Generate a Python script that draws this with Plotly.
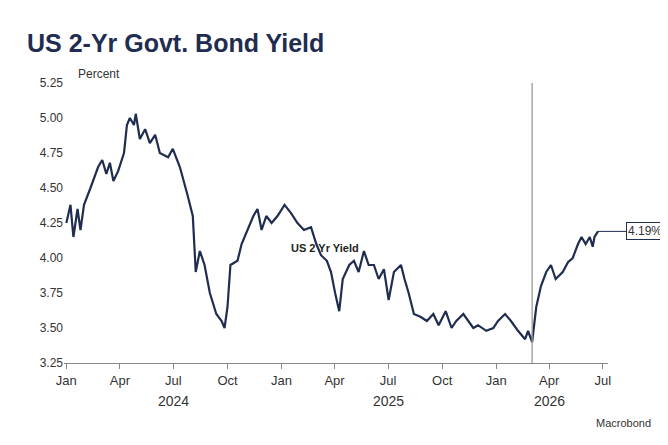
import plotly.graph_objects as go

dates = [
    "2024-01-01", "2024-01-08", "2024-01-13", "2024-01-20", "2024-01-25", "2024-01-31",
    "2024-02-11", "2024-02-24", "2024-03-02", "2024-03-09", "2024-03-15", "2024-03-21",
    "2024-03-29", "2024-04-08", "2024-04-13", "2024-04-18", "2024-04-25", "2024-04-28",
    "2024-05-05", "2024-05-14", "2024-05-22", "2024-05-31", "2024-06-08", "2024-06-22",
    "2024-06-30", "2024-07-12", "2024-07-25", "2024-08-03", "2024-08-08", "2024-08-15",
    "2024-08-23", "2024-09-01", "2024-09-12", "2024-09-21", "2024-09-26", "2024-10-01",
    "2024-10-06", "2024-10-18", "2024-10-25", "2024-11-04", "2024-11-14", "2024-11-21",
    "2024-11-28", "2024-12-06", "2024-12-15", "2024-12-25", "2025-01-06", "2025-01-17",
    "2025-01-28", "2025-02-08", "2025-02-20", "2025-03-01", "2025-03-09", "2025-03-19",
    "2025-03-26", "2025-04-02", "2025-04-09", "2025-04-15", "2025-04-26", "2025-05-04",
    "2025-05-12", "2025-05-21", "2025-05-29", "2025-06-07", "2025-06-15", "2025-06-24",
    "2025-07-02", "2025-07-11", "2025-07-23", "2025-07-29", "2025-08-05", "2025-08-14",
    "2025-08-25", "2025-09-05", "2025-09-16", "2025-09-25", "2025-10-07", "2025-10-17",
    "2025-10-25", "2025-11-06", "2025-11-15", "2025-11-23", "2025-12-01", "2025-12-15",
    "2025-12-27", "2026-01-04", "2026-01-16", "2026-01-26", "2026-02-07", "2026-02-19",
    "2026-02-24", "2026-03-03", "2026-03-10", "2026-03-18", "2026-03-27", "2026-04-04",
    "2026-04-12", "2026-04-24", "2026-05-03", "2026-05-11", "2026-05-20", "2026-05-26",
    "2026-06-02", "2026-06-09", "2026-06-14", "2026-06-17", "2026-06-23",
]
yields = [
    4.25, 4.38, 4.15, 4.35, 4.20, 4.38,
    4.50, 4.65, 4.70, 4.60, 4.68, 4.55,
    4.62, 4.75, 4.95, 5.00, 4.95, 5.03,
    4.85, 4.92, 4.82, 4.88, 4.75, 4.72,
    4.78, 4.65, 4.45, 4.30, 3.90, 4.05,
    3.95, 3.75, 3.60, 3.55, 3.50, 3.65,
    3.95, 3.98, 4.10, 4.20, 4.30, 4.35,
    4.20, 4.30, 4.25, 4.30, 4.38, 4.32,
    4.25, 4.20, 4.22, 4.10, 4.02, 3.98,
    3.90, 3.75, 3.62, 3.85, 3.95, 3.98,
    3.90, 4.05, 3.95, 3.95, 3.85, 3.92,
    3.70, 3.90, 3.95, 3.85, 3.75, 3.60,
    3.58, 3.55, 3.60, 3.52, 3.62, 3.50,
    3.55, 3.60, 3.55, 3.50, 3.52, 3.48,
    3.50, 3.55, 3.60, 3.55, 3.48, 3.42,
    3.48, 3.40, 3.65, 3.80, 3.90, 3.95,
    3.85, 3.90, 3.97, 4.00, 4.10, 4.15,
    4.10, 4.15, 4.08, 4.15, 4.19,
]
tick_dates = ["2024-01-01", "2024-04-01", "2024-07-01", "2024-10-01", "2025-01-01",
              "2025-04-01", "2025-07-01", "2025-10-01", "2026-01-01", "2026-04-01",
              "2026-07-01"]
tick_labels = ["Jan", "Apr", "Jul", "Oct", "Jan", "Apr", "Jul", "Oct", "Jan", "Apr", "Jul"]
year_pos = ["2024-07-01", "2025-07-01", "2026-04-01"]
year_labels = ["2024", "2025", "2026"]

navy = "#1f2d50"
fig = go.Figure(go.Scatter(x=dates, y=yields, mode="lines",
                           line=dict(color=navy, width=2.2), showlegend=False))

fig.add_shape(type="line", x0="2026-03-03", x1="2026-03-03", y0=0, y1=1.0,
              xref="x", yref="paper", line=dict(color="#999999", width=1.3))

fig.update_layout(
    width=668, height=445,
    margin=dict(l=56, r=68, t=75, b=90, autoexpand=False),
    plot_bgcolor="white", paper_bgcolor="white",
    font=dict(family="Liberation Sans, Arial", size=13, color="#333333"),
    xaxis=dict(range=["2023-12-28", "2026-07-10"], tickvals=tick_dates, ticktext=tick_labels,
               showgrid=False, showline=True, linecolor="#888888",
               ticks="outside", ticklen=5, tickcolor="#888888", zeroline=False),
    yaxis=dict(range=[3.25, 5.25], tickvals=[3.25, 3.5, 3.75, 4.0, 4.25, 4.5, 4.75, 5.0, 5.25],
               tickformat=".2f", showgrid=False, zeroline=False, ticks="", ticklen=0,
               tickfont=dict(size=12)),
)

fig.add_annotation(text="<b>US 2-Yr Govt. Bond Yield</b>", xref="paper", yref="paper",
                   x=-0.072, y=1.143, xanchor="left", yanchor="middle", showarrow=False,
                   font=dict(size=25, color=navy))
fig.add_annotation(text="Percent", xref="paper", yref="paper", x=0.022, y=1.0,
                   xanchor="left", yanchor="bottom", showarrow=False, font=dict(size=12))
fig.add_annotation(text="<b>US 2 Yr Yield</b>", x="2025-03-15", y=4.07, showarrow=False,
                   font=dict(size=11, color="#222222"))
fig.add_annotation(text="4.19%", x=dates[-1], y=yields[-1], ax=28, ay=0, xanchor="left",
                   showarrow=True, arrowcolor=navy, arrowwidth=1, arrowhead=0,
                   bordercolor=navy, borderwidth=1, bgcolor="white",
                   font=dict(size=12, color="#333333"))
for p, t in zip(year_pos, year_labels):
    fig.add_annotation(text=t, x=p, y=-0.136, yref="paper", yanchor="middle",
                       showarrow=False, font=dict(size=14))
fig.add_annotation(text="Macrobond", xref="paper", yref="paper", x=1.083, y=-0.214,
                   xanchor="right", yanchor="middle", showarrow=False, font=dict(size=11))

fig.write_html("out.html")
